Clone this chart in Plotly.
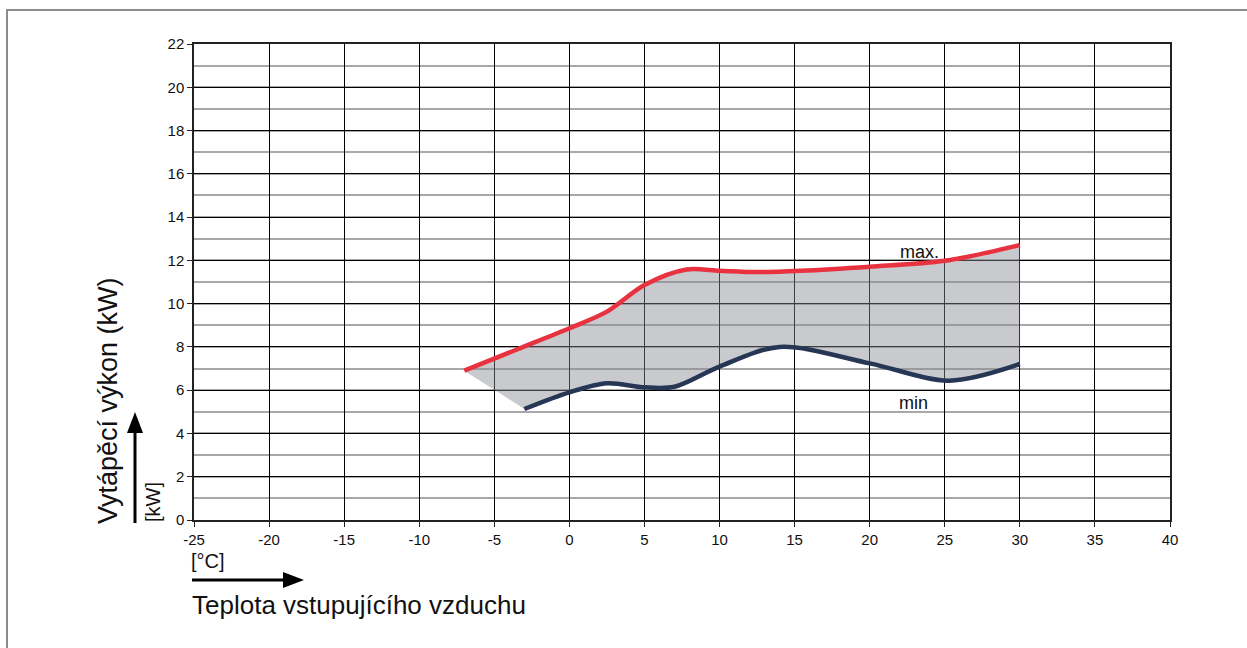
import plotly.graph_objects as go

# data
temp_max = [-7, -3.5, 0, 2.5, 5, 7.8, 10, 12.5, 15.4, 20, 25, 30]
power_max = [6.9, 7.88, 8.86, 9.63, 10.86, 11.58, 11.52, 11.46, 11.52, 11.71, 11.98, 12.71]
temp_min = [-3, 0, 2.5, 5, 7, 10, 14, 20, 25.3, 30]
power_min = [5.13, 5.9, 6.32, 6.13, 6.16, 7.09, 8.0, 7.24, 6.44, 7.21]

x_ticks = [-25, -20, -15, -10, -5, 0, 5, 10, 15, 20, 25, 30, 35, 40]
y_ticks = [0, 2, 4, 6, 8, 10, 12, 14, 16, 18, 20, 22]

label_max = "max."
label_min = "min"
x_title = "Teplota vstupujícího vzduchu"
y_title = "Vytápěcí výkon (kW)"
x_unit = "[°C]"
y_unit = "[kW]"

FONT = "Arial, Liberation Sans, sans-serif"
W, H = 1247, 648
L, R, T, B = 194, 77, 44, 128
PW, PH = W - L - R, H - T - B


def px(x):
    return (x - L) / PW


def py(y):
    return (H - B - y) / PH


fig = go.Figure()
fig.add_trace(go.Scatter(
    x=temp_min, y=power_min, mode="lines",
    line=dict(color="#263654", width=4.5, shape="spline", smoothing=0.9),
    showlegend=False, hoverinfo="skip"))
fig.add_trace(go.Scatter(
    x=temp_max, y=power_max, mode="lines", fill="tonexty",
    fillcolor="rgba(133,137,144,0.45)",
    line=dict(color="#e8323f", width=4.5, shape="spline", smoothing=0.9),
    showlegend=False, hoverinfo="skip"))

fig.add_annotation(x=23.3, y=12.38, text=label_max, showarrow=False,
                   font=dict(family=FONT, size=18, color="#111"))
fig.add_annotation(x=22.95, y=5.41, text=label_min, showarrow=False,
                   font=dict(family=FONT, size=18, color="#111"))

# axis titles and units
fig.add_annotation(xref="paper", yref="paper", x=px(108), y=py(401), text=y_title,
                   textangle=-90, showarrow=False, xanchor="center", yanchor="middle",
                   font=dict(family=FONT, size=27, color="#111"))
fig.add_annotation(xref="paper", yref="paper", x=px(190), y=py(605), text=x_title,
                   xanchor="left", yanchor="middle", showarrow=False,
                   font=dict(family=FONT, size=26, color="#111"))
fig.add_annotation(xref="paper", yref="paper", x=px(153), y=py(502), text=y_unit,
                   textangle=-90, showarrow=False, xanchor="center", yanchor="middle",
                   font=dict(family=FONT, size=20, color="#111"))
fig.add_annotation(xref="paper", yref="paper", x=px(189), y=py(561), text=x_unit,
                   xanchor="left", yanchor="middle", showarrow=False,
                   font=dict(family=FONT, size=20, color="#111"))

shapes = []
# horizontal arrow
shapes.append(dict(type="line", xref="paper", yref="paper",
                   x0=px(192), x1=px(286), y0=py(580), y1=py(580),
                   line=dict(color="black", width=3)))
shapes.append(dict(type="path", xref="paper", yref="paper",
                   path=f"M {px(283)} {py(572)} L {px(304)} {py(580)} L {px(283)} {py(588)} Z",
                   fillcolor="black", line=dict(color="black", width=0)))
# vertical arrow
shapes.append(dict(type="line", xref="paper", yref="paper",
                   x0=px(135), x1=px(135), y0=py(523), y1=py(430),
                   line=dict(color="black", width=3)))
shapes.append(dict(type="path", xref="paper", yref="paper",
                   path=f"M {px(127)} {py(433)} L {px(135)} {py(412)} L {px(143)} {py(433)} Z",
                   fillcolor="black", line=dict(color="black", width=0)))
# outer frame
shapes.append(dict(type="path", xref="paper", yref="paper",
                   path=f"M {px(7)} {py(700)} L {px(7)} {py(10)} L {px(1300)} {py(10)}",
                   line=dict(color="#8c8c8c", width=2)))
fig.update_layout(shapes=shapes)

fig.update_xaxes(range=[-25, 40], tickvals=x_ticks, ticktext=[str(v) for v in x_ticks],
                 showgrid=True, gridcolor="black", gridwidth=1,
                 showline=True, linecolor="#222", linewidth=1.5, mirror=True,
                 ticks="outside", ticklen=5, tickcolor="#222",
                 zeroline=False, tickfont=dict(family=FONT, size=15, color="#111"))
fig.update_yaxes(range=[0, 22], tickvals=y_ticks, ticktext=[str(v) for v in y_ticks],
                 showgrid=True, gridcolor="black", gridwidth=1,
                 minor=dict(dtick=1, tick0=0, showgrid=True, gridcolor="#a8a8a8", gridwidth=1.5, ticks=""),
                 showline=True, linecolor="#222", linewidth=1.5, mirror=True,
                 ticks="outside", ticklen=5, tickcolor="#222",
                 zeroline=False, tickfont=dict(family=FONT, size=15, color="#111"))

fig.update_layout(width=W, height=H, margin=dict(l=L, r=R, t=T, b=B),
                  paper_bgcolor="white", plot_bgcolor="white",
                  font=dict(family=FONT))
fig.write_html("out.html", config={"displayModeBar": False},
               post_script="document.body.style.margin='0';document.body.style.overflow='hidden';")
